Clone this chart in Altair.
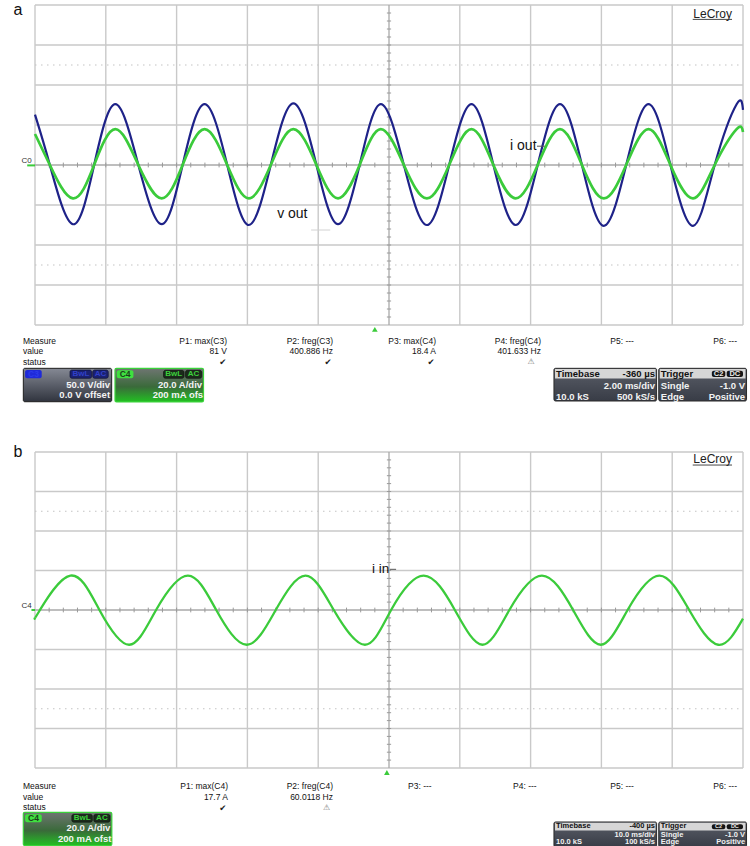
import altair as alt
import pandas as pd

FONT = "Liberation Sans"
GLYPH_FONT = "DejaVu Sans"

GRID = "#c9c9c9"
CENTER = "#a9a9a9"
BLUE = "#1e2288"
GREEN = "#3bcb3b"

# ---------------------------------------------------------------------------
# Panel a: output voltage (C3, 50 V/div) and output current (C4, 20 A/div),
# 2 ms/div over 10 divisions.  Key points of each trace (ms, value).
vout_t = [0.00, 0.42, 1.07, 1.67, 2.27, 2.92, 3.58, 4.17, 4.79, 5.43, 6.04,
          6.66, 7.30, 7.95, 8.56, 9.17, 9.77, 10.42, 11.07, 11.70, 12.33,
          12.95, 13.58, 14.20, 14.83, 15.45, 16.07, 16.70, 17.33, 17.95,
          18.59, 19.20, 19.82, 20.00]
vout_v = [63, 0, -74, 0, 76, 0, -74, 0, 76, 0, -75, 0, 77, 0, -74, 0, 76, 0,
          -75, 0, 76, 0, -75, 0, 76, 0, -76, 0, 76, 0, -76, 0, 76, 69]
iout_t = vout_t
iout_v = [15.5, 0, -16.7, 0, 17.9, 0, -16.7, 0, 17.9, 0, -16.7, 0, 17.9, 0,
          -16.7, 0, 17.9, 0, -16.7, 0, 17.9, 0, -16.7, 0, 17.9, 0, -16.7, 0,
          17.9, 0, -16.7, 0, 17.9, 16.5]

# Panel b: input current (C4, 20 A/div), 10 ms/div over 10 divisions.
iin_t = [0.0, 0.7, 5.0, 9.1, 13.3, 17.1, 21.6, 25.6, 29.9, 34.0, 38.2, 42.2,
         46.6, 50.3, 54.9, 59.3, 63.2, 67.0, 71.6, 76.0, 79.9, 83.7, 88.2,
         92.4, 96.5, 100.0]
iin_v = [-4.0, 0, 17.4, 0, -17.6, 0, 17.4, 0, -17.6, 0, 17.4, 0, -17.6, 0,
         17.4, 0, -17.6, 0, 17.4, 0, -17.6, 0, 17.4, 0, -17.6, -4.4]

# Measurement readouts
a_headers = ["P1: max(C3)", "P2: freg(C3)", "P3: max(C4)", "P4: freg(C4)", "P5: ---", "P6: ---"]
a_values = ["81 V", "400.886 Hz", "18.4 A", "401.633 Hz"]
b_headers = ["P1: max(C4)", "P2: freg(C4)", "P3: ---", "P4: ---", "P5: ---", "P6: ---"]
b_values = ["17.7 A", "60.0118 Hz"]

# Screen areas of the two graticules (pixels) and the division grid
PA = {"xr": [35, 743], "yr": [325, 5]}
PB = {"xr": [35, 743], "yr": [768, 452]}
DIV_X = [0, 10]
DIV_Y = [-4, 4]


def pos(p, xdom=DIV_X, ydom=DIV_Y, xf="x", yf="y"):
    return {
        "x": alt.X(f"{xf}:Q", scale=alt.Scale(domain=xdom, range=p["xr"], nice=False, zero=False), axis=None),
        "y": alt.Y(f"{yf}:Q", scale=alt.Scale(domain=ydom, range=p["yr"], nice=False, zero=False), axis=None),
    }


def rules(p, rows, **kw):
    df = pd.DataFrame(rows, columns=["x", "x2", "y", "y2"])
    return alt.Chart(df).mark_rule(**kw).encode(**pos(p), x2="x2:Q", y2="y2:Q")


def rects(p, rows, **kw):
    df = pd.DataFrame(rows, columns=["x", "x2", "y", "y2"])
    return alt.Chart(df).mark_rect(**kw).encode(**pos(p), x2="x2:Q", y2="y2:Q")


def texts(p, rows, font=FONT, **kw):
    df = pd.DataFrame(rows, columns=["x", "y", "label"])
    return alt.Chart(df).mark_text(font=font, **kw).encode(**pos(p), text="label:N")


def graticule(p):
    v = [(i, i, -4, 4) for i in range(11) if i != 5]
    h = [(0, 10, j, j) for j in range(-4, 5) if j != 0]
    centre = [(5, 5, -4, 4), (0, 10, 0, 0)]
    ticks_h = [(k / 5, k / 5, -0.06, 0.06) for k in range(1, 50) if k != 25]
    ticks_v = [(4.97, 5.03, k / 5, k / 5) for k in range(-19, 20) if k != 0]
    dotted = [(0, 10, 2.5, 2.5), (0, 10, -2.5, -2.5)]
    return [
        rules(p, v + h, color=GRID, strokeWidth=1.4),
        rules(p, dotted, color="#c4c4c4", strokeWidth=1.2, strokeDash=[1.5, 4.5]),
        rules(p, centre, color=CENTER, strokeWidth=1.3),
        rules(p, ticks_h + ticks_v, color="#9a9a9a", strokeWidth=1),
    ]


def trace(p, t, v, tdom, vdom, color, width):
    df = pd.DataFrame({"t": t, "v": v})
    return alt.Chart(df).mark_line(interpolate="natural", color=color, strokeWidth=width).encode(
        **pos(p, xdom=tdom, ydom=vdom, xf="t", yf="v"))


def grad(stops):
    return alt.Gradient(gradient="linear", x1=0, x2=0, y1=0, y2=1,
                        stops=[alt.GradientStop(offset=o, color=c) for o, c in stops])


BOX_GRAY = grad([(0, "#858994"), (1, "#30343e")])
BOX_GREEN = grad([(0, "#6f7572"), (0.55, "#3a6a3a"), (1, "#22c022")])
BOX_DARK = grad([(0, "#5a5e68"), (1, "#383c46")])


def status_boxes(p, top, head_bottom, bottom, rows, size, tb_text, tb_rate, tb_samples):
    """Timebase and trigger boxes at the lower right."""
    r1, r2, r3 = rows
    chip_top = top - 0.25 * (top - head_bottom)
    chip_bot = top - 0.85 * (top - head_bottom)
    return [
        rects(p, [(7.33, 8.78, top, bottom), (8.81, 10.05, top, bottom)],
              fill=BOX_DARK, stroke="#2a2a2a", strokeWidth=1, cornerRadius=1.5),
        rects(p, [(7.345, 8.765, top - 0.02, head_bottom), (8.825, 10.035, top - 0.02, head_bottom)],
              fill="#d6d6d6"),
        rects(p, [(9.56, 9.75, chip_top, chip_bot), (9.77, 10.0, chip_top, chip_bot)],
              fill="#151515", cornerRadius=2),
        texts(p, [(7.36, r1, "Timebase"), (8.84, r1, "Trigger")],
              align="left", baseline="middle", fontSize=size, fontWeight="bold", color="#111"),
        texts(p, [(8.757, r1, tb_text)], align="right", baseline="middle", fontSize=size,
              fontWeight="bold", color="#111"),
        texts(p, [(9.655, r1, "C2"), (9.885, r1, "DC")], align="center", baseline="middle",
              fontSize=size - 2, fontWeight="bold", color="#e8e8e8"),
        texts(p, [(8.757, r2, tb_rate), (8.757, r3, tb_samples[1]),
                  (10.03, r2, "-1.0 V"), (10.03, r3, "Positive")],
              align="right", baseline="middle", fontSize=size, fontWeight="bold", color="#f2f2f2"),
        texts(p, [(7.36, r3, tb_samples[0]), (8.84, r2, "Single"), (8.84, r3, "Edge")],
              align="left", baseline="middle", fontSize=size, fontWeight="bold", color="#f2f2f2"),
    ]


def c4_box(p, x0, y0, ofs_text):
    """Channel C4 descriptor box."""
    return [
        rects(p, [(x0, x0 + 1.25, y0, y0 - 0.84)], fill=BOX_GREEN, stroke="#3ad23a",
              strokeWidth=1.2, cornerRadius=1.5),
        rects(p, [(x0 + 0.025, x0 + 0.26, y0 - 0.05, y0 - 0.25)], fill="#3fe03f", cornerRadius=2),
        rects(p, [(x0 + 0.685, x0 + 0.975, y0 - 0.05, y0 - 0.25),
                  (x0 + 0.995, x0 + 1.225, y0 - 0.05, y0 - 0.25)],
              fill="#1b2a1b", stroke="#0b120b", strokeWidth=0.6, cornerRadius=2),
        texts(p, [(x0 + 0.143, y0 - 0.15, "C4")], align="center", baseline="middle",
              fontSize=8.5, fontWeight="bold", color="#1c3d1c"),
        texts(p, [(x0 + 0.83, y0 - 0.15, "BwL"), (x0 + 1.11, y0 - 0.15, "AC")],
              align="center", baseline="middle", fontSize=8, fontWeight="bold", color="#3bd03b"),
        texts(p, [(x0 + 1.23, y0 - 0.405, "20.0 A/div"), (x0 + 1.245, y0 - 0.665, ofs_text)],
              align="right", baseline="middle", fontSize=9.5, fontWeight="bold", color="#f4f4f4"),
    ]


layers = []

# ----------------------------- panel a ------------------------------------
layers += graticule(PA)
layers.append(trace(PA, vout_t, vout_v, [0, 20], [-200, 200], BLUE, 2.2))
layers.append(trace(PA, iout_t, iout_v, [0, 20], [-80, 80], GREEN, 2.7))

layers += [
    texts(PA, [(-0.24, 3.875, "a")], align="center", baseline="middle", fontSize=16, color="#111"),
    texts(PA, [(9.845, 3.78, "LeCroy")], align="right", baseline="middle", fontSize=12, color="#222"),
    rules(PA, [(9.29, 9.845, 3.64, 3.64)], color="#333", strokeWidth=0.9),
    texts(PA, [(-0.045, 0.1, "C0")], align="right", baseline="middle", fontSize=8, color="#333"),
    rules(PA, [(-0.11, 0.0, -0.01, -0.01)], color=GREEN, strokeWidth=2),
    texts(PA, [(6.71, 0.475, "i out"), (3.42, -1.225, "v out")], align="left",
          baseline="middle", fontSize=14, color="#111"),
    rules(PA, [(7.09, 7.2, 0.47, 0.47)], color="#555", strokeWidth=1),
    rules(PA, [(3.9, 4.17, -1.625, -1.625)], color="#d2d2d2", strokeWidth=1),
]

a_cols = [2.712, 4.209, 5.664, 7.147, 8.46, 9.915]
layers += [
    texts(PA, [(-0.17, -4.4, "Measure"), (-0.17, -4.65, "value"), (-0.17, -4.9125, "status")],
          align="left", baseline="middle", fontSize=8.5, color="#111"),
    texts(PA, [(x, -4.4, s) for x, s in zip(a_cols, a_headers)] +
          [(x, -4.65, s) for x, s in zip(a_cols, a_values)],
          align="right", baseline="middle", fontSize=8.5, color="#111"),
    texts(PA, [(2.651, -4.92, "✔"), (4.138, -4.92, "✔"), (5.593, -4.92, "✔")],
          font=GLYPH_FONT, align="center", baseline="middle", fontSize=8.5, color="#222"),
    texts(PA, [(7.006, -4.92, "⚠")], font=GLYPH_FONT, align="center", baseline="middle",
          fontSize=8, color="#777"),
]
layers.append(alt.Chart(pd.DataFrame({"x": [4.80], "y": [-4.11]})).mark_point(
    shape="triangle-up", filled=True, size=32, color=GREEN, opacity=1).encode(**pos(PA)))

# channel C3 box
layers += [
    rects(PA, [(-0.165, 1.083, -5.083, -5.918)], fill=BOX_GRAY, stroke="#1e1e1e",
          strokeWidth=1, cornerRadius=1.5),
    rects(PA, [(-0.14, 0.095, -5.125, -5.333)], fill="#1f2ad8", cornerRadius=2),
    rects(PA, [(0.494, 0.801, -5.125, -5.333), (0.815, 1.035, -5.125, -5.333)],
          fill="#1b2170", stroke="#090a2a", strokeWidth=0.6, cornerRadius=2),
    texts(PA, [(-0.022, -5.23, "C3")], align="center", baseline="middle", fontSize=8.5,
          fontWeight="bold", color="#2c3ae8"),
    texts(PA, [(0.648, -5.23, "BwL"), (0.925, -5.23, "AC")], align="center", baseline="middle",
          fontSize=8, fontWeight="bold", color="#3040c8"),
    texts(PA, [(1.06, -5.488, "50.0 V/div"), (1.06, -5.748, "0.0 V offset")], align="right",
          baseline="middle", fontSize=9.5, fontWeight="bold", color="#f4f4f4"),
]
layers += c4_box(PA, 1.13, -5.083, "200 mA ofs")
layers += status_boxes(PA, -5.083, -5.338, -5.9, (-5.2125, -5.5125, -5.7875), 9.5,
                       "-360 µs", "2.00 ms/div", ("10.0 kS", "500 kS/s"))

# ----------------------------- panel b ------------------------------------
layers += graticule(PB)
layers.append(trace(PB, iin_t, iin_v, [0, 100], [-80, 80], GREEN, 2.3))

layers += [
    texts(PB, [(-0.24, 4.0, "b")], align="center", baseline="middle", fontSize=16, color="#111"),
    texts(PB, [(9.845, 3.815, "LeCroy")], align="right", baseline="middle", fontSize=12, color="#222"),
    rules(PB, [(9.29, 9.845, 3.67, 3.67)], color="#333", strokeWidth=0.9),
    texts(PB, [(-0.045, 0.09, "C4")], align="right", baseline="middle", fontSize=8, color="#333"),
    rules(PB, [(-0.05, 0.0, 0.0, 0.0)], color=GREEN, strokeWidth=2),
    texts(PB, [(4.76, 1.04, "i in")], align="left", baseline="middle", fontSize=13.5, color="#111"),
    rules(PB, [(5.01, 5.1, 1.03, 1.03)], color="#555", strokeWidth=1),
]

b_cols = [2.726, 4.209, 5.603, 7.086, 8.46, 9.915]
layers += [
    texts(PB, [(-0.17, -4.456, "Measure"), (-0.17, -4.727, "value"), (-0.17, -4.995, "status")],
          align="left", baseline="middle", fontSize=8.5, color="#111"),
    texts(PB, [(x, -4.456, s) for x, s in zip(b_cols, b_headers)] +
          [(x, -4.727, s) for x, s in zip(b_cols, b_values)],
          align="right", baseline="middle", fontSize=8.5, color="#111"),
    texts(PB, [(2.651, -5.0, "✔")], font=GLYPH_FONT, align="center", baseline="middle",
          fontSize=8.5, color="#222"),
    texts(PB, [(4.12, -5.0, "⚠")], font=GLYPH_FONT, align="center", baseline="middle",
          fontSize=8, color="#777"),
]
layers.append(alt.Chart(pd.DataFrame({"x": [4.97], "y": [-4.114]})).mark_point(
    shape="triangle-up", filled=True, size=32, color=GREEN, opacity=1).encode(**pos(PB)))

layers += c4_box(PB, -0.165, -5.122, "200 mA ofst")
layers += status_boxes(PB, -5.367, -5.585, -6.0, (-5.468, -5.684, -5.886), 7.5,
                       "-400 µs", "10.0 ms/div", ("10.0 kS", "100 kS/s"))

chart = (
    alt.layer(*layers)
    .resolve_scale(x="independent", y="independent")
    .properties(width=750, height=846, padding=0, autosize=alt.AutoSizeParams(type="none"),
                background="white")
    .configure_view(stroke=None)
)

chart.save("out.html", embed_options={"renderer": "svg", "actions": False})
